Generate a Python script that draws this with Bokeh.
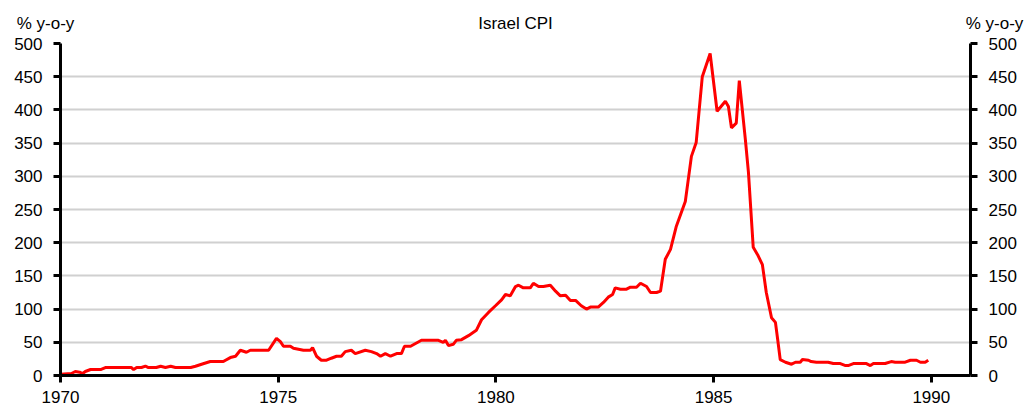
from bokeh.plotting import figure
from bokeh.models import LinearAxis, FixedTicker, Range1d, Label
from bokeh.layouts import column
from bokeh.embed import file_html
from bokeh.resources import INLINE

# Israel CPI, % y-o-y
years = [1970.00, 1970.25, 1970.34, 1970.44, 1970.51, 1970.57, 1970.69, 1970.92, 1971.03, 1971.63,
         1971.68, 1971.75, 1971.86, 1971.95, 1972.02, 1972.20, 1972.30, 1972.41, 1972.53, 1972.64,
         1972.99, 1973.10, 1973.24, 1973.44, 1973.74, 1973.79, 1973.90, 1974.02, 1974.13, 1974.27,
         1974.36, 1974.78, 1974.96, 1975.05, 1975.12, 1975.28, 1975.35, 1975.58, 1975.74, 1975.79,
         1975.88, 1975.99, 1976.11, 1976.22, 1976.34, 1976.45, 1976.54, 1976.68, 1976.77, 1977.00,
         1977.14, 1977.26, 1977.35, 1977.46, 1977.58, 1977.72, 1977.83, 1977.90, 1978.04, 1978.29,
         1978.68, 1978.79, 1978.84, 1978.91, 1979.02, 1979.09, 1979.21, 1979.37, 1979.55, 1979.67,
         1979.83, 1979.99, 1980.13, 1980.22, 1980.33, 1980.45, 1980.52, 1980.63, 1980.79, 1980.86,
         1980.98, 1981.09, 1981.25, 1981.37, 1981.48, 1981.60, 1981.71, 1981.83, 1981.96, 1982.08,
         1982.17, 1982.35, 1982.47, 1982.58, 1982.68, 1982.74, 1982.86, 1983.00, 1983.09, 1983.23,
         1983.32, 1983.46, 1983.55, 1983.69, 1983.78, 1983.89, 1984.01, 1984.14, 1984.35, 1984.49,
         1984.60, 1984.74, 1984.92, 1985.08, 1985.27, 1985.34, 1985.41, 1985.52, 1985.59, 1985.73,
         1985.80, 1985.91, 1986.01, 1986.12, 1986.21, 1986.33, 1986.42, 1986.47, 1986.53, 1986.65,
         1986.79, 1986.88, 1986.99, 1987.04, 1987.18, 1987.24, 1987.36, 1987.63, 1987.75, 1987.91,
         1988.03, 1988.09, 1988.21, 1988.51, 1988.60, 1988.67, 1988.94, 1989.08, 1989.17, 1989.40,
         1989.52, 1989.66, 1989.75, 1989.86, 1989.93]
cpi_yoy = [2, 3, 6, 5, 3, 6, 9, 9, 12, 12,
           9, 12, 12, 14, 12, 12, 14, 12, 14, 12,
           12, 14, 17, 21, 21, 23, 27, 29, 38, 35,
           38, 38, 56, 51, 44, 44, 41, 38, 38, 42,
           29, 23, 23, 26, 29, 29, 36, 38, 33, 38,
           36, 33, 29, 33, 29, 33, 33, 44, 44, 53,
           53, 50, 53, 45, 47, 53, 54, 60, 68, 84,
           95, 105, 114, 122, 120, 134, 136, 132, 132, 139,
           134, 134, 136, 127, 120, 121, 113, 113, 105, 100,
           103, 103, 110, 118, 122, 132, 130, 130, 133, 133,
           139, 134, 125, 125, 127, 175, 190, 224, 262, 330,
           351, 450, 485, 398, 413, 405, 373, 380, 444, 355,
           306, 193, 182, 167, 125, 87, 80, 55, 24, 20,
           17, 20, 20, 24, 23, 21, 20, 20, 18, 18,
           15, 15, 18, 18, 15, 18, 18, 21, 20, 20,
           23, 23, 20, 20, 23]

y_ticks = [0, 50, 100, 150, 200, 250, 300, 350, 400, 450, 500]
x_ticks = [1970, 1975, 1980, 1985, 1990]
title_text = "Israel CPI"
unit_label = "% y-o-y"

FONT = "Liberation Sans"
FS = "17px"
X0, X1 = 1970, 1990.9
BL, FW, BR = 60, 910, 58
W = BL + FW + BR
HDR_H = 33

xr = Range1d(X0, X1)

def txt_label(x, dx, text):
    return Label(x=x, y=HDR_H - 23, x_offset=dx, text=text, text_align="center",
                 text_baseline="middle", text_font=FONT, text_font_size=FS, text_color="black")

# ---- header strip (title and unit labels) ----
hdr = figure(width=W, height=HDR_H, x_range=xr, y_range=Range1d(0, HDR_H),
             x_axis_type=None, y_axis_type=None,
             output_backend="svg", toolbar_location=None, min_border=0)
hdr.outline_line_color = None
hdr.background_fill_color = "white"
hdr.border_fill_color = "white"
hdr.add_layout(txt_label((X0 + X1) / 2, 0, title_text))
hdr.add_layout(txt_label(X0, -15, unit_label), "left")
hdr.add_layout(txt_label(X1, 24, unit_label), "right")

# ---- main chart ----
p = figure(frame_width=FW, frame_height=332,
           x_range=xr, y_range=Range1d(0, 500),
           output_backend="svg", toolbar_location=None,
           min_border_left=BL, min_border_right=BR, min_border_top=10, min_border_bottom=36)
p.outline_line_color = None
p.background_fill_color = "white"
p.border_fill_color = "white"

p.xgrid.visible = False
p.ygrid.ticker = FixedTicker(ticks=y_ticks)
p.ygrid.grid_line_color = "#d0d0d0"
p.ygrid.grid_line_width = 2

p.add_layout(LinearAxis(), "right")

for ax in p.yaxis:
    ax.ticker = FixedTicker(ticks=y_ticks)
for ax in p.xaxis:
    ax.ticker = FixedTicker(ticks=x_ticks)

for ax in p.axis:
    ax.axis_line_color = "black"
    ax.axis_line_width = 3
    ax.major_tick_line_color = "black"
    ax.major_tick_line_width = 3
    ax.major_tick_out = 7
    ax.major_tick_in = 0
    ax.minor_tick_line_color = None
    ax.major_label_text_font = FONT
    ax.major_label_text_font_size = FS
    ax.major_label_text_color = "black"
    ax.major_label_standoff = 11
for ax in p.xaxis:
    ax.major_label_standoff = 8

p.line(years, cpi_yoy, line_color="#ff0000", line_width=3)

layout = column(hdr, p, spacing=0)
open("out.html", "w").write(file_html(layout, INLINE))
